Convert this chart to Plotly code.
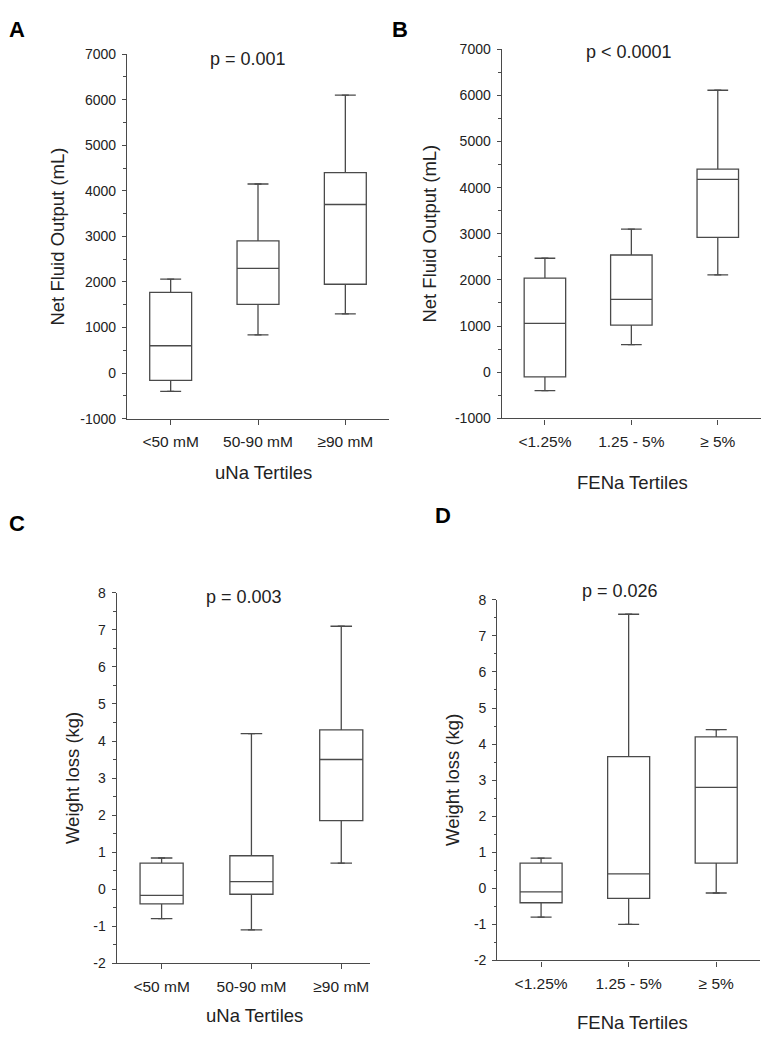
import plotly.graph_objects as go

# page body has an 8px margin; size the figure so the page fits the 769x1050 window
PAD = 8
W, H = 769 - 2 * PAD, 1050 - 2 * PAD

# ---------------- data ----------------
una_cats = ["<50 mM", "50-90 mM", "≥90 mM"]
fena_cats = ["<1.25%", "1.25 - 5%", "≥ 5%"]

# Panel A: Net fluid output by uNa tertile
a_low = [-400, 840, 1300]
a_q1 = [-160, 1510, 1950]
a_med = [600, 2300, 3700]
a_q3 = [1770, 2900, 4400]
a_high = [2060, 4150, 6100]

# Panel B: Net fluid output by FENa tertile
b_low = [-400, 600, 2110]
b_q1 = [-100, 1020, 2920]
b_med = [1060, 1580, 4180]
b_q3 = [2040, 2540, 4400]
b_high = [2470, 3100, 6110]

# Panel C: Weight loss by uNa tertile
c_low = [-0.8, -1.1, 0.7]
c_q1 = [-0.4, -0.14, 1.85]
c_med = [-0.17, 0.2, 3.5]
c_q3 = [0.7, 0.9, 4.3]
c_high = [0.84, 4.2, 7.1]

# Panel D: Weight loss by FENa tertile
d_low = [-0.8, -1.0, -0.13]
d_q1 = [-0.4, -0.28, 0.7]
d_med = [-0.1, 0.4, 2.8]
d_q3 = [0.7, 3.65, 4.2]
d_high = [0.84, 7.6, 4.4]

fluid_ticks = [-1000, 0, 1000, 2000, 3000, 4000, 5000, 6000, 7000]
fluid_ticktext = ["-1000", "0", "1000", "2000", "3000", "4000", "5000", "6000", "7000"]
weight_ticks = [-2, -1, 0, 1, 2, 3, 4, 5, 6, 7, 8]
weight_ticktext = ["-2", "-1", "0", "1", "2", "3", "4", "5", "6", "7", "8"]

p_texts = ["p = 0.001", "p < 0.0001", "p = 0.003", "p = 0.026"]
panel_letters = ["A", "B", "C", "D"]
y_titles = ["Net Fluid Output (mL)", "Net Fluid Output (mL)", "Weight loss (kg)", "Weight loss (kg)"]
x_titles = ["uNa Tertiles", "FENa Tertiles", "uNa Tertiles", "FENa Tertiles"]

# ---------------- layout helpers (window pixel geometry) ----------------
def px(x):
    return min(max((x - PAD) / W, 0), 1)

def py(y):
    return min(max(1 - (y - PAD) / H, 0), 1)

# plot areas in window pixels: (left, right, top, bottom)
areas = [
    (127, 389, 46.7, 417),
    (501.7, 768, 41.7, 416.7),
    (116.7, 370, 594, 970),
    (497.3, 760, 601, 967.3),
]
xranges = [[-0.5, 2.5], [-0.5, 2.5], [-0.5, 2.32], [-0.5, 2.5]]
yranges = [[-1000, 7000], [-1000, 7000], [-2, 8], [-2, 8]]
ytickvals = [fluid_ticks, fluid_ticks, weight_ticks, weight_ticks]
yticktexts = [fluid_ticktext, fluid_ticktext, weight_ticktext, weight_ticktext]
yminor = [500, 500, 0.5, 0.5]

panels = [
    (una_cats, a_low, a_q1, a_med, a_q3, a_high),
    (fena_cats, b_low, b_q1, b_med, b_q3, b_high),
    (una_cats, c_low, c_q1, c_med, c_q3, c_high),
    (fena_cats, d_low, d_q1, d_med, d_q3, d_high),
]

LINE = "#4a4a4a"
TXT = "#222222"
FONT = "Liberation Sans, Arial, sans-serif"

fig = go.Figure()
for i, (cats, lo, q1, med, q3, hi) in enumerate(panels):
    xa = "x" if i == 0 else f"x{i+1}"
    ya = "y" if i == 0 else f"y{i+1}"
    fig.add_trace(go.Box(
        x=cats, q1=q1, median=med, q3=q3, lowerfence=lo, upperfence=hi,
        xaxis=xa, yaxis=ya, width=0.48, fillcolor="white",
        line=dict(color=LINE, width=1.3), showlegend=False, hoverinfo="skip",
        boxpoints=False,
    ))
    fig.add_trace(go.Scatter(
        x=cats + cats, y=lo + hi, mode="markers", xaxis=xa, yaxis=ya,
        marker=dict(symbol="line-ew", size=5, line=dict(color=LINE, width=1.3)),
        showlegend=False, hoverinfo="skip",
    ))

layout = dict(
    width=W, height=H, margin=dict(l=0, r=0, t=0, b=0),
    paper_bgcolor="white", plot_bgcolor="white",
    font=dict(family=FONT, color=TXT),
    showlegend=False,
)
annotations = []
for i in range(4):
    l, r, t, b = areas[i]
    sfx = "" if i == 0 else str(i + 1)
    layout["xaxis" + sfx] = dict(
        domain=[px(l), px(r)], range=xranges[i], anchor="y" + sfx,
        type="category", showline=True, linecolor=LINE, linewidth=1.3,
        ticks="outside", ticklen=5, tickwidth=1.2, tickcolor=LINE,
        showgrid=False, zeroline=False, fixedrange=True,
        tickfont=dict(size=15.5, color=TXT), ticklabelstandoff=4,
    )
    layout["yaxis" + sfx] = dict(
        domain=[py(b), py(t)], range=yranges[i], anchor="x" + sfx,
        showline=True, linecolor=LINE, linewidth=1.3,
        ticks="outside", ticklen=4, tickwidth=1.2, tickcolor=LINE,
        tickmode="array", tickvals=ytickvals[i], ticktext=yticktexts[i],
        minor=dict(dtick=yminor[i], tick0=0, ticks="outside", ticklen=2.5, tickwidth=1.2,
                   tickcolor=LINE, showgrid=False),
        showgrid=False, zeroline=False, fixedrange=True,
        tickfont=dict(size=14, color=TXT), ticklabelstandoff=3,
    )

# panel letters (kept inside the figure's edges)
letter_specs = [
    (PAD, PAD, "left", "top"),
    (400, PAD, "center", "top"),
    (PAD, 523, "left", "middle"),
    (443, 515, "center", "middle"),
]
for (x, y, xa_, ya_), s in zip(letter_specs, panel_letters):
    annotations.append(dict(x=px(x), y=py(y), xref="paper", yref="paper", text=f"<b>{s}</b>",
                            showarrow=False, font=dict(size=22, color="#000"),
                            xanchor=xa_, yanchor=ya_, borderpad=0))

# p-values
p_pos = [(248, 52), (629, 45), (244, 598), (620, 592)]
for (x, y), s in zip(p_pos, p_texts):
    annotations.append(dict(x=px(x), y=py(y), xref="paper", yref="paper", text=s,
                            showarrow=False, font=dict(size=18, color=TXT), xanchor="center", yanchor="middle"))

# y titles
ytitle_pos = [(58, 232), (430, 229), (72, 782), (453, 784)]
for (x, y), s in zip(ytitle_pos, y_titles):
    annotations.append(dict(x=px(x), y=py(y), xref="paper", yref="paper", text=s, textangle=-90,
                            showarrow=False, font=dict(size=18.5, color=TXT), xanchor="center", yanchor="middle"))

# x titles
xtitle_pos = [(264, 472), (632, 482), (254, 1023), (632, 1030)]
for (x, y), s in zip(xtitle_pos, x_titles):
    annotations.append(dict(x=px(x), y=py(y), xref="paper", yref="paper", text=s,
                            showarrow=False, font=dict(size=18.5, color=TXT), xanchor="center", yanchor="middle"))

layout["annotations"] = annotations
fig.update_layout(**layout)
fig.write_html("out.html")
